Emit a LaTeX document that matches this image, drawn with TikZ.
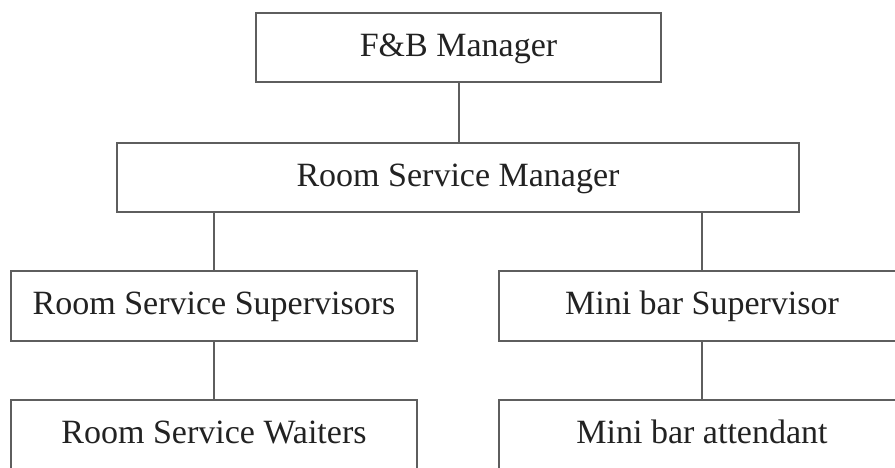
\documentclass[tikz,border=0pt]{standalone}
\usepackage{fontspec}
\setmainfont{Liberation Serif}
\definecolor{boxline}{HTML}{5E5E5E}
\definecolor{boxtext}{HTML}{222222}
\begin{document}
\begin{tikzpicture}[x=1pt,y=1pt,
  orgbox/.style={draw=boxline, line width=2.2pt, rectangle, fill=white,
    minimum height=69pt, inner sep=0pt, text=boxtext,
    text height=24pt, text depth=7pt,
    font=\fontsize{34}{40}\selectfont},
  link/.style={draw=boxline, line width=2pt}]
\useasboundingbox (0,0) rectangle (895,-467);
\clip (0,0) rectangle (895,-467);
\fill[white] (0,0) rectangle (895,-467);

% top of the chain
\node[orgbox, minimum width=405pt] (fb)  at (458.5,-47.5) {F\&B Manager};
\node[orgbox, minimum width=682pt] (rsm) at (458,-177.5) {Room Service Manager};

% room service branch
\node[orgbox, minimum width=406pt, minimum height=70pt] (rss) at (214,-306) {Room Service Supervisors};
\node[orgbox, minimum width=406pt, minimum height=70pt] (rsw) at (214,-435) {Room Service Waiters};

% mini bar branch
\node[orgbox, minimum width=406pt, minimum height=70pt] (mbs) at (702,-306) {Mini bar Supervisor};
\node[orgbox, minimum width=406pt, minimum height=70pt] (mba) at (702,-435) {Mini bar attendant};

% reporting lines
\draw[link] (fb.south) -- (fb.south |- rsm.north);
\draw[link] (rss.north |- rsm.south) -- (rss.north);
\draw[link] (mbs.north |- rsm.south) -- (mbs.north);
\draw[link] (rss.south) -- (rsw.north);
\draw[link] (mbs.south) -- (mba.north);
\end{tikzpicture}
\end{document}
